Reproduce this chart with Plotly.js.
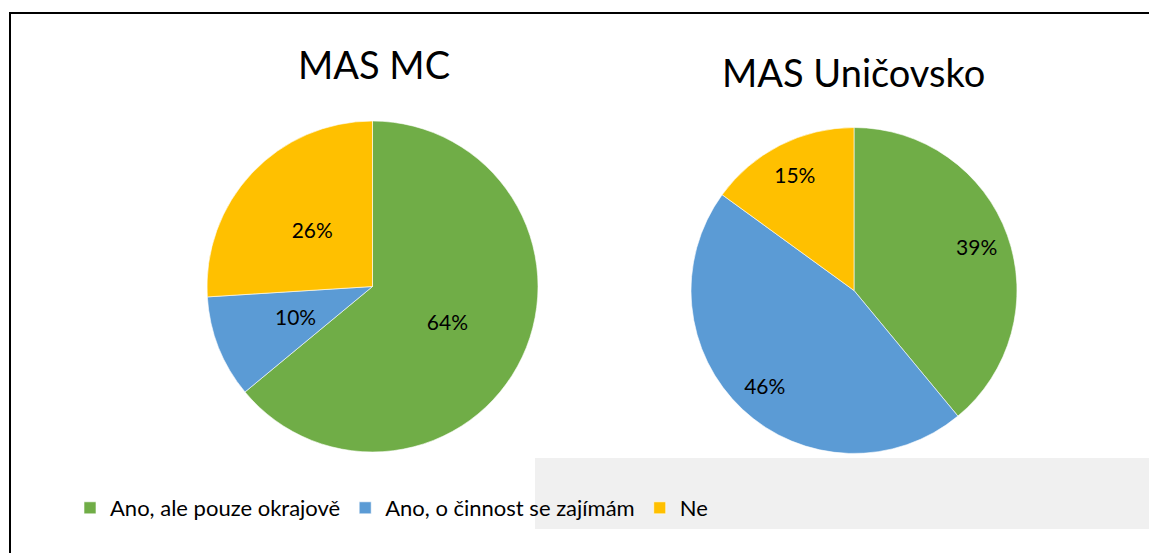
<!DOCTYPE html>
<html>
<head>
<meta charset="utf-8">
<script src="https://cdn.plot.ly/plotly-3.0.1.min.js"></script>
<style>
html,body{margin:0;padding:0;background:#fff;}
#chart{width:1149px;height:553px;}
</style>
</head>
<body>
<div id="chart"></div>
<script>
// Data
const categories = ["Ano, ale pouze okrajově", "Ano, o činnost se zajímám", "Ne"];
const masMC = [64, 10, 26];
const masUnicovsko = [39, 46, 15];
const chartTitles = ["MAS MC", "MAS Uničovsko"];
const sliceColors = ["#70ad47", "#5b9bd5", "#ffc000"];

const W = 1149, H = 553;
const FONT = "Lato, 'Open Sans', sans-serif";
const PCT = "%{percent:.0%}";

function domainFor(cx, cy, r) {
  return {x: [(cx - r) / W, (cx + r) / W], y: [1 - (cy + r) / H, 1 - (cy - r) / H]};
}

// filled pie; labels given per slice (empty string = label drawn by the ring trace)
function pie(values, cx, cy, r, name, templates) {
  return {
    type: "pie",
    name: name,
    labels: categories,
    values: values,
    sort: false,
    direction: "clockwise",
    rotation: 0,
    marker: {colors: sliceColors, line: {color: "#ffffff", width: 0.6}},
    textinfo: "percent",
    texttemplate: templates,
    textposition: "inside",
    insidetextorientation: "horizontal",
    textfont: {family: FONT, size: 21, color: "#000000"},
    domain: domainFor(cx, cy, r),
    showlegend: true
  };
}

// transparent ring carrying percentage labels, so that they sit at Excel-like radius
function labelRing(values, cx, cy, r, hole, name, templates) {
  return {
    type: "pie",
    name: name + " labels",
    labels: categories,
    values: values,
    sort: false,
    direction: "clockwise",
    rotation: 0,
    hole: hole,
    marker: {colors: ["rgba(0,0,0,0)", "rgba(0,0,0,0)", "rgba(0,0,0,0)"], line: {width: 0}},
    textinfo: "percent",
    texttemplate: templates,
    textposition: "inside",
    insidetextorientation: "horizontal",
    textfont: {family: FONT, size: 21, color: "#000000"},
    domain: domainFor(cx, cy, r),
    showlegend: false
  };
}

const p1 = {cx: 372.5, cy: 286.5, r: 165.5};
const p2 = {cx: 854, cy: 290.5, r: 163};

const data = [
  pie(masMC, p1.cx, p1.cy, p1.r, chartTitles[0], [PCT, "", ""]),
  pie(masUnicovsko, p2.cx, p2.cy, p2.r, chartTitles[1], ["", "", ""]),
  labelRing(masMC, p1.cx, p1.cy, p1.r * 0.645, 0.55, chartTitles[0], ["", PCT, PCT]),
  labelRing(masUnicovsko, p2.cx, p2.cy, p2.r, 0.6, chartTitles[1], [PCT, PCT, PCT])
];

const layout = {
  width: W, height: H,
  margin: {l: 0, r: 0, t: 0, b: 0},
  paper_bgcolor: "#ffffff",
  plot_bgcolor: "#ffffff",
  font: {family: FONT, color: "#000000"},
  showlegend: true,
  legend: {
    orientation: "h",
    x: 70 / W, xanchor: "left",
    y: 1 - 508 / H, yanchor: "middle",
    font: {family: FONT, size: 22, color: "#000000"},
    bgcolor: "rgba(0,0,0,0)",
    traceorder: "normal",
    itemclick: false
  },
  annotations: [
    {text: chartTitles[0], x: 374 / W, y: 1 - 64 / H, xref: "paper", yref: "paper",
     xanchor: "center", yanchor: "middle", showarrow: false,
     font: {family: FONT, size: 38, color: "#000000"}},
    {text: chartTitles[1], x: 853 / W, y: 1 - 72 / H, xref: "paper", yref: "paper",
     xanchor: "center", yanchor: "middle", showarrow: false,
     font: {family: FONT, size: 38, color: "#000000"}}
  ],
  shapes: [
    {type: "rect", xref: "paper", yref: "paper", layer: "below",
     x0: 535 / W, x1: 1, y0: 1 - 529 / H, y1: 1 - 458 / H,
     fillcolor: "#f0f0f0", line: {width: 0}},
    {type: "path", xref: "paper", yref: "paper", layer: "above",
     path: "M " + (10 / W) + " 0 L " + (10 / W) + " " + (1 - 13 / H) + " L 1 " + (1 - 13 / H),
     line: {color: "#000000", width: 2}}
  ]
};

Plotly.newPlot("chart", data, layout, {displayModeBar: false, staticPlot: true});
</script>
</body>
</html>
